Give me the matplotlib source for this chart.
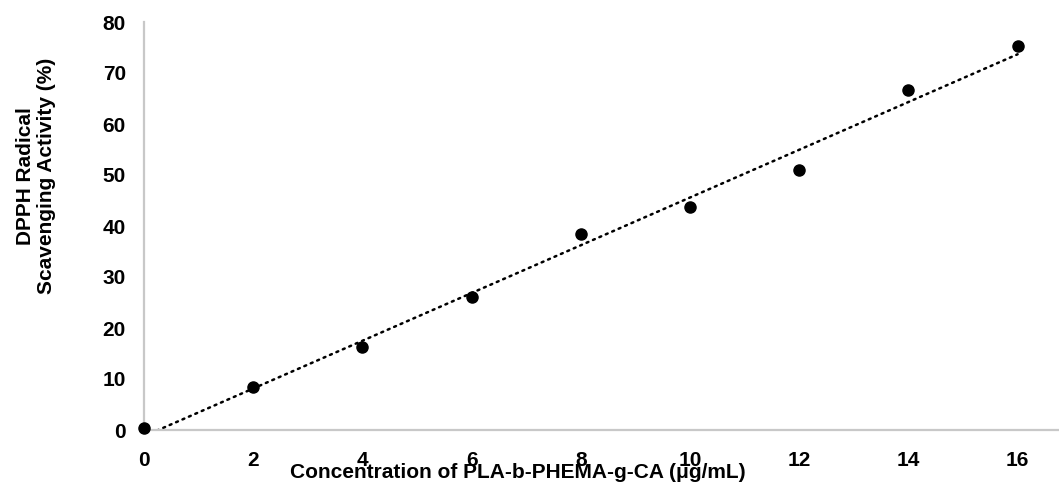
import numpy as np
import matplotlib.pyplot as plt

plt.rcParams['font.family'] = ['Liberation Sans', 'DejaVu Sans']

# concentration (ug/mL) and DPPH scavenging activity (%)
conc = [0, 2, 4, 6, 8, 10, 12, 14, 16]
activity = [0.3, 8.4, 16.2, 26.0, 38.5, 43.8, 50.9, 66.7, 75.2]

fig = plt.figure(figsize=(10.59, 4.83), dpi=100)
ax = fig.add_axes([144 / 1059, 1 - 430 / 483, (1058 - 144) / 1059, 408 / 483])

# linear trendline
slope, intercept = np.polyfit(conc, activity, 1)
xt = np.linspace(0, 16, 200)
ax.plot(xt, slope * xt + intercept, color='black', linewidth=1.8,
        linestyle=(0, (0.8, 2.0)), dash_capstyle='round', zorder=2)

ax.plot(conc, activity, 'o', color='black', markersize=8, clip_on=False, zorder=3)

ax.set_xlim(0, 16.74)
ax.set_ylim(0, 80)
ax.set_xticks(range(0, 17, 2))
ax.set_yticks(range(0, 81, 10))

for s in ['top', 'right']:
    ax.spines[s].set_visible(False)
for s in ['left', 'bottom']:
    ax.spines[s].set_color('#c8c8c8')
    ax.spines[s].set_linewidth(1.6)

ax.tick_params(axis='both', length=0, labelsize=15)
ax.tick_params(axis='x', pad=15)
ax.tick_params(axis='y', pad=13)
for lab in ax.get_xticklabels() + ax.get_yticklabels():
    lab.set_fontweight('bold')

fig.text(518 / 1059, 1 - 472 / 483, 'Concentration of PLA-b-PHEMA-g-CA (μg/mL)',
         ha='center', va='center', fontsize=15, fontweight='bold')
fig.text(36 / 1059, 1 - 176 / 483, 'DPPH Radical\nScavenging Activity (%)',
         ha='center', va='center', rotation=90, multialignment='center',
         fontsize=15, fontweight='bold', linespacing=1.1)

fig.savefig('out.png', dpi=100)
